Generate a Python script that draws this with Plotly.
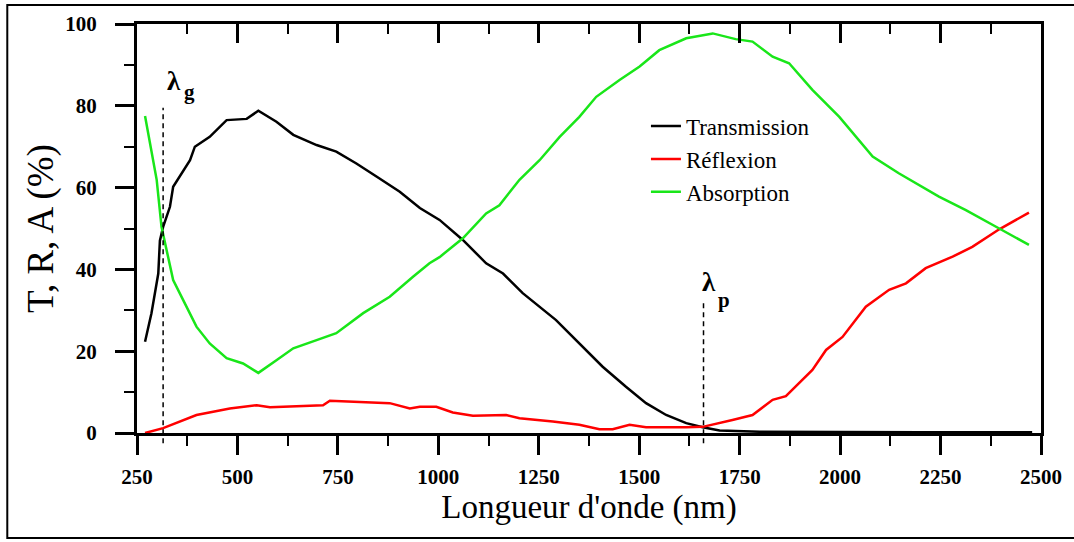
import plotly.graph_objects as go

# ---------------- data ----------------
wl_T = [270, 286, 303, 307, 315, 332, 340, 357, 382, 394, 431, 473, 523, 552, 597,
        639, 697, 746, 796, 846, 904, 954, 1003, 1061, 1119, 1161, 1210, 1293, 1351,
        1409, 1467, 1517, 1567, 1617, 1658, 1700, 1800, 2000, 2200, 2478]
T = [22.3, 29.3, 39.0, 47.0, 50.4, 55.3, 60.2, 62.7, 66.7, 70.0, 72.4, 76.5, 76.8, 78.8, 76.1,
     72.9, 70.4, 68.8, 65.9, 62.7, 59.0, 55.0, 52.1, 47.2, 41.5, 39.0, 34.2, 27.6, 21.9,
     16.2, 11.3, 7.3, 4.4, 2.4, 1.4, 0.6, 0.3, 0.2, 0.2, 0.2]

wl_R = [270, 315, 398, 481, 548, 581, 713, 730, 879, 929, 954, 995, 1036, 1086, 1169,
        1202, 1285, 1351, 1401, 1434, 1476, 1517, 1617, 1658, 1732, 1782, 1832, 1865,
        1931, 1965, 2006, 2064, 2122, 2164, 2213, 2280, 2329, 2396, 2470]
R = [0.0, 1.2, 4.4, 6.0, 6.8, 6.3, 6.8, 7.9, 7.3, 6.0, 6.4, 6.4, 5.0, 4.2, 4.4,
     3.6, 2.8, 2.0, 0.9, 0.9, 2.0, 1.4, 1.4, 1.5, 3.2, 4.4, 8.1, 9.0,
     15.4, 20.3, 23.5, 30.9, 35.0, 36.6, 40.3, 43.1, 45.5, 49.8, 53.9]

wl_A = [270, 286, 299, 311, 328, 340, 365, 398, 431, 473, 514, 552, 597, 639, 697,
        746, 813, 879, 937, 978, 1003, 1061, 1119, 1152, 1202, 1252, 1302, 1351, 1393,
        1451, 1501, 1550, 1617, 1683, 1740, 1782, 1832, 1873, 1931, 1998, 2081, 2146,
        2246, 2313, 2396, 2470]
A = [77.5, 69.2, 61.9, 50.4, 42.3, 37.4, 32.5, 26.0, 21.9, 18.3, 17.0, 14.7, 17.8, 20.7, 22.7,
     24.4, 29.3, 33.3, 38.2, 41.5, 43.0, 47.6, 53.7, 55.7, 61.9, 66.7, 72.4, 77.3, 82.2,
     86.3, 89.6, 93.6, 96.5, 97.7, 96.3, 95.7, 92.0, 90.4, 83.9, 77.3, 67.6, 63.5,
     57.8, 54.5, 50.0, 46.0]

series_names = ["Transmission", "Réflexion", "Absorption"]
series_colors = ["#000000", "#ff0000", "#19e619"]

x_ticks = [250, 500, 750, 1000, 1250, 1500, 1750, 2000, 2250, 2500]
y_ticks = [0, 20, 40, 60, 80, 100]
X_RANGE = [250, 2500]
Y_RANGE = [0, 100]

LAMBDA_G = 315        # nm
LAMBDA_G_TOP = 79.5   # % (top of dashed marker)
LAMBDA_P = 1660       # nm
LAMBDA_P_TOP = 32.5   # %

# ---------------- figure ----------------
fig = go.Figure()
for wl, vals, name, col in zip([wl_T, wl_R, wl_A], [T, R, A], series_names, series_colors):
    fig.add_trace(go.Scatter(x=wl, y=vals, mode="lines", name=name,
                             line=dict(color=col, width=2.5)))

# empty trace for the top (mirrored, inward-ticked) axis
fig.add_trace(go.Scatter(x=[], y=[], xaxis="x2", showlegend=False, hoverinfo="skip"))

SERIF = "Liberation Serif"
common_x = dict(range=X_RANGE, showgrid=False, zeroline=False,
                showline=True, linewidth=3, linecolor="black",
                tickvals=x_ticks, tickwidth=3, tickcolor="black", ticklen=19)

fig.update_layout(
    width=1074, height=542,
    margin=dict(l=137, r=31, t=24, b=109),
    paper_bgcolor="white", plot_bgcolor="white",
    font=dict(family=SERIF, color="black"),
    showlegend=True,
    legend=dict(x=0.563, y=0.803, xanchor="left", yanchor="top",
                bgcolor="rgba(0,0,0,0)", borderwidth=0,
                font=dict(family=SERIF, size=23, color="black")),
    xaxis=dict(**common_x, ticks="outside",
               tickfont=dict(family=SERIF, size=21, weight="bold"),
               ticklabelstandoff=4,
               minor=dict(ticks="outside", ticklen=10, tickwidth=2, tickcolor="black",
                          tick0=250, dtick=125, showgrid=False),
               title=dict(text="Longueur d'onde (nm)", standoff=6,
                          font=dict(family=SERIF, size=33))),
    xaxis2=dict(**common_x, overlaying="x", side="top", anchor="y",
                ticks="inside", showticklabels=False,
                minor=dict(ticks="inside", ticklen=10, tickwidth=2, tickcolor="black",
                           tick0=250, dtick=125, showgrid=False)),
    yaxis=dict(range=Y_RANGE, showgrid=False, zeroline=False,
               showline=True, linewidth=3, linecolor="black", mirror=True,
               tickvals=y_ticks, ticks="outside", ticklen=19, tickwidth=3, tickcolor="black",
               tickfont=dict(family=SERIF, size=21, weight="bold"),
               ticklabelstandoff=14,
               minor=dict(ticks="outside", ticklen=10, tickwidth=2, tickcolor="black",
                          dtick=10, showgrid=False),
               title=dict(text="T, R, A (%)", standoff=1,
                          font=dict(family=SERIF, size=37))),
)

# dashed markers for lambda_g and lambda_p
for lam, top in [(LAMBDA_G, LAMBDA_G_TOP), (LAMBDA_P, LAMBDA_P_TOP)]:
    fig.add_shape(type="line", xref="x", yref="paper",
                  x0=lam, x1=lam, y0=-0.025, y1=top / (Y_RANGE[1] - Y_RANGE[0]),
                  line=dict(color="black", width=1.5, dash="5px,4px"))

# lambda labels
fig.add_annotation(x=LAMBDA_G, y=LAMBDA_G_TOP, xref="x", yref="y", text="<b>λ</b>",
                   showarrow=False, xshift=11, yshift=27,
                   font=dict(family=SERIF, size=27, color="black"))
fig.add_annotation(x=LAMBDA_G, y=LAMBDA_G_TOP, xref="x", yref="y", text="<b>g</b>",
                   showarrow=False, xshift=26, yshift=16,
                   font=dict(family=SERIF, size=21, color="black"))
fig.add_annotation(x=LAMBDA_P, y=LAMBDA_P_TOP, xref="x", yref="y", text="<b>λ</b>",
                   showarrow=False, xshift=5, yshift=18,
                   font=dict(family=SERIF, size=27, color="black"))
fig.add_annotation(x=LAMBDA_P, y=LAMBDA_P_TOP, xref="x", yref="y", text="<b>p</b>",
                   showarrow=False, xshift=20, yshift=0,
                   font=dict(family=SERIF, size=21, color="black"))

# outer picture frame (right edge falls outside the picture)
fig.add_shape(type="rect", xref="paper", yref="paper",
              x0=(7 - 137) / 906, x1=(1085 - 137) / 906,
              y0=(433 - 538) / 409, y1=(433 - 5) / 409,
              line=dict(color="black", width=2), fillcolor="rgba(0,0,0,0)")

fig.write_html("out.html")
